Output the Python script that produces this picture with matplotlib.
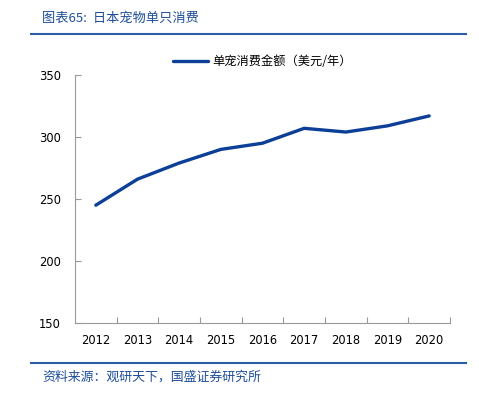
import matplotlib.pyplot as plt
from matplotlib.lines import Line2D

plt.rcParams['font.family'] = ['Noto Sans CJK SC', 'DejaVu Sans']

# data
years = ['2012', '2013', '2014', '2015', '2016', '2017', '2018', '2019', '2020']
spend = [245, 266, 279, 290, 295, 307, 304, 309, 317]
series_name = '单宠消费金额（美元/年）'
y_ticks = [150, 200, 250, 300, 350]

fig = plt.figure(figsize=(4.79, 3.94), dpi=100)
ax = fig.add_axes([75 / 479, 1 - 323 / 394, 375 / 479, 248 / 394])

x = list(range(len(years)))
ax.plot(x, spend, color='#0B3F98', linewidth=2.4, solid_capstyle='round',
        label=series_name)

ax.set_xlim(-0.5, len(years) - 0.5)
ax.set_ylim(150, 350)
ax.set_yticks(y_ticks)
ax.set_xticks(x)
ax.set_xticklabels(years, fontfamily='DejaVu Sans', fontsize=8.3)
ax.set_xticks([i + 0.5 for i in range(len(years))], minor=True)
ax.tick_params(axis='x', which='major', length=0, pad=8)
ax.tick_params(axis='x', which='minor', direction='in', length=4,
               color='#999999', width=0.8)
ax.tick_params(axis='y', direction='in', length=4, color='#999999',
               width=0.8, labelsize=8.3, pad=10)
for lab in ax.get_yticklabels():
    lab.set_fontfamily('DejaVu Sans')

for side in ['top', 'right']:
    ax.spines[side].set_visible(False)
for side in ['left', 'bottom']:
    ax.spines[side].set_color('#999999')
    ax.spines[side].set_linewidth(0.8)

leg = ax.legend(loc='upper center', bbox_to_anchor=(0.5, 1.125), frameon=False,
                fontsize=8.8, handlelength=2.9, handletextpad=0.35)

# header / footer decoration
fig.text(42 / 479, 1 - 18 / 394, '图表65:  日本宠物单只消费', color='#1F4E9A',
         fontsize=9.5, va='center', ha='left', style='italic')
fig.add_artist(Line2D([31 / 479, 466 / 479], [1 - 34 / 394] * 2,
                      color='#2E5DA8', linewidth=1.5))
fig.add_artist(Line2D([31 / 479, 466 / 479], [1 - 363 / 394] * 2,
                      color='#2E5DA8', linewidth=1.5))
fig.text(42 / 479, 1 - 377 / 394, '资料来源：观研天下，国盛证券研究所',
         color='#1F4E9A', fontsize=9.3, va='center', ha='left', style='italic')

plt.savefig('out.png', dpi=100)
